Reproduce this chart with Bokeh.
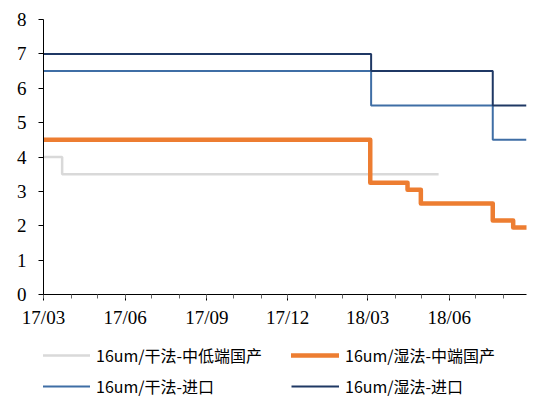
import pandas as pd
from bokeh.plotting import figure
from bokeh.layouts import column
from bokeh.models import (Legend, LegendItem, FixedTicker, DatetimeTickFormatter,
                          Range1d)
from bokeh.embed import file_html
from bokeh.resources import INLINE

# ---- data ----
gray_dates = ["2017-03-01", "2017-03-22", "2018-05-20"]
gray_vals = [4.0, 3.5, 3.5]

orange_dates = ["2017-03-01", "2018-03-04", "2018-04-15", "2018-04-30",
                "2018-07-20", "2018-08-12", "2018-08-27"]
orange_vals = [4.5, 3.25, 3.05, 2.65, 2.15, 1.95, 1.95]

blue_dates = ["2017-03-01", "2018-03-05", "2018-07-20", "2018-08-27"]
blue_vals = [6.5, 5.5, 4.5, 4.5]

navy_dates = ["2017-03-01", "2018-03-05", "2018-07-20", "2018-08-27"]
navy_vals = [7.0, 6.5, 5.5, 5.5]

series_names = ["16um/干法-中低端国产", "16um/湿法-中端国产",
                "16um/干法-进口", "16um/湿法-进口"]

major_tick_dates = ["2017-03-01", "2017-06-01", "2017-09-01", "2017-12-01",
                    "2018-03-01", "2018-06-01"]
minor_tick_dates = ["2017-%02d-01" % m for m in range(3, 13)] + \
                   ["2018-%02d-01" % m for m in range(1, 9)]
y_ticks = [0, 1, 2, 3, 4, 5, 6, 7, 8]

x_start = "2017-03-01"
x_end = "2018-08-27"

styles = [dict(line_color="#D9D9D9", line_width=2.5),
          dict(line_color="#ED7D31", line_width=4.5, line_join="round",
               line_cap="round"),
          dict(line_color="#3F6EA5", line_width=2),
          dict(line_color="#1F3864", line_width=2)]


def ms(d):
    return pd.Timestamp(d).value // 10**6


p = figure(width=528, height=334, x_axis_type="datetime",
           output_backend="svg", toolbar_location=None,
           x_range=Range1d(ms(x_start), ms(x_end)), y_range=Range1d(0, 8),
           min_border_left=43, min_border_top=19, min_border_bottom=40,
           min_border_right=2)
p.outline_line_color = None
p.xgrid.visible = False
p.ygrid.visible = False

series = [(gray_dates, gray_vals), (orange_dates, orange_vals),
          (blue_dates, blue_vals), (navy_dates, navy_vals)]
for (d, v), st in zip(series, styles):
    p.step(pd.to_datetime(d), v, mode="after", **st)

serif = "'Liberation Serif', 'Times New Roman', serif"

# axes
xa = p.xaxis[0]
xa.ticker = FixedTicker(ticks=[ms(d) for d in major_tick_dates],
                        minor_ticks=[ms(d) for d in minor_tick_dates])
xa.formatter = DatetimeTickFormatter(days="%y/%m", months="%y/%m",
                                     years="%y/%m", hours="%y/%m")
xa.major_tick_out = 6
xa.major_tick_in = 0
xa.minor_tick_out = 4
xa.minor_tick_in = 0
xa.minor_tick_line_color = "#666666"
xa.axis_line_color = "black"
xa.major_tick_line_color = "black"
xa.major_label_text_font = serif
xa.major_label_text_font_size = "19px"
xa.major_label_text_color = "black"
xa.major_label_standoff = 6

ya = p.yaxis[0]
ya.ticker = FixedTicker(ticks=y_ticks)
ya.major_tick_out = 5
ya.major_tick_in = 0
ya.minor_tick_out = 0
ya.minor_tick_in = 0
ya.axis_line_color = "black"
ya.major_tick_line_color = "black"
ya.major_label_text_font = serif
ya.major_label_text_font_size = "19px"
ya.major_label_text_color = "black"
ya.major_label_standoff = 12

# ---- legend in its own strip below the chart ----
# (the strip's ranges keep its copies of the series out of view; only the
# legend entries show)
lg = figure(width=528, height=66, output_backend="svg", toolbar_location=None,
            x_range=Range1d(0, 1), y_range=Range1d(0, 1),
            min_border_left=43, min_border_right=2, min_border_top=0,
            min_border_bottom=0, x_axis_location=None, y_axis_location=None)
lg.outline_line_color = None
lg.xgrid.visible = False
lg.ygrid.visible = False
items = []
for name, (d, v), st in zip(series_names, series, styles):
    r = lg.step([ms(x) for x in d], v, mode="after", **st)
    items.append(LegendItem(label=name, renderers=[r]))

legend = Legend(items=items, orientation="horizontal", ncols=2,
                location=(-1, 2), padding=0, margin=0, spacing=7,
                glyph_width=48, glyph_height=16, label_standoff=6,
                label_width=188, label_height=16,
                label_text_font="Noto Sans CJK SC",
                label_text_font_size="16px", label_text_color="black",
                border_line_color=None, background_fill_alpha=0)
lg.add_layout(legend)

layout = column(p, lg, spacing=0)
open("out.html", "w").write(file_html(layout, INLINE))
